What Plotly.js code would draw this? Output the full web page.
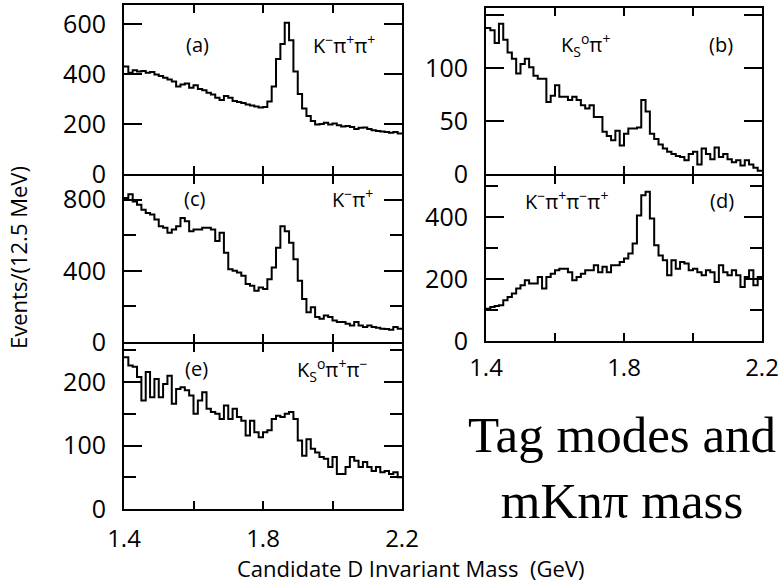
<!DOCTYPE html>
<html>
<head>
<meta charset="utf-8">
<script src="https://cdn.plot.ly/plotly-3.0.1.min.js"></script>
<style>html,body{margin:0;padding:0;background:#fff;}#chart{width:784px;height:587px;}</style>
</head>
<body>
<div id="chart"></div>
<script>
// Histogram binning: 64 bins of 12.5 MeV from 1.4 to 2.2 GeV
const massMin = 1.4;
const binWidth = 0.0125;

// (a) K- pi+ pi+
const countsA = [430,405,415,410,412,405,408,398,392,385,378,370,350,358,362,345,
  355,340,335,325,318,305,296,312,305,292,288,284,278,274,270,266,
  268,290,350,460,520,605,535,410,320,262,232,212,198,200,205,198,
  202,195,190,192,188,180,185,186,180,175,172,170,168,165,168,162];
// (b) Ks pi+
const countsB = [138,136,124,142,127,115,109,95,104,109,101,93,90,90,68,74,
  84,73,73,70,73,70,65,62,65,54,54,40,36,32,41,27,
  38,43,43,44,70,59,38,33,28,24,21,19,17,16,13,19,
  21,9,24,19,14,25,16,19,14,11,13,8,13,9,6,3];
// (c) K- pi+
const countsC = [809,831,790,772,744,725,716,688,651,642,614,632,651,697,679,623,
  632,632,642,642,632,567,614,502,409,400,391,372,326,316,288,307,
  298,353,419,530,651,623,558,465,344,242,167,195,140,130,149,140,
  121,112,112,102,93,112,93,84,93,84,80,74,73,69,84,74];
// (d) K- pi+ pi- pi+
const countsD = [104,110,113,115,131,142,153,169,180,196,185,185,206,169,206,217,
  228,233,233,222,196,206,217,228,228,244,222,239,222,244,244,255,
  266,282,314,405,470,481,395,309,276,260,212,260,233,255,250,228,
  233,222,212,228,222,190,244,222,212,228,212,174,206,228,180,206];
// (e) Ks pi+ pi-
const countsE = [239,226,224,208,171,216,176,205,176,197,210,166,189,192,187,179,
  150,171,184,158,153,150,142,163,142,158,145,139,116,139,121,113,
  121,124,142,147,145,150,153,142,108,84,110,95,89,82,79,66,
  82,55,55,66,82,76,66,74,66,60,66,58,60,55,58,50];

const xTickVals = [1.4, 1.6, 1.8, 2.0, 2.2];
const xTickText = ['1.4', '', '1.8', '', '2.2'];
const panelLabels = ['(a)', '(b)', '(c)', '(d)', '(e)'];
const modeLabels = ['K<sup>−</sup>π<sup>+</sup>π<sup>+</sup>', 'K<sub>S</sub><sup>o</sup>π<sup>+</sup>',
  'K<sup>−</sup>π<sup>+</sup>', 'K<sup>−</sup>π<sup>+</sup>π<sup>−</sup>π<sup>+</sup>',
  'K<sub>S</sub><sup>o</sup>π<sup>+</sup>π<sup>−</sup>'];
const yTitle = 'Events/(12.5 MeV)';
const xTitle = 'Candidate D Invariant Mass  (GeV)';
const noteText = 'Tag modes and<br>mKnπ mass';

// y ranges and major / minor tick steps per panel
const yRanges = [[0, 676], [0, 157], [0, 933], [0, 532], [0, 260]];
const yMajor = [200, 50, 400, 200, 100];
const yMinor = [null, null, 200, 100, 50];
const xRange = [1.4, 2.2];

function stepXY(counts) {
  const xs = [], ys = [];
  for (let i = 0; i < counts.length; i++) {
    xs.push(massMin + i * binWidth);
    ys.push(counts[i]);
  }
  xs.push(massMin + counts.length * binWidth);
  ys.push(counts[counts.length - 1]);
  return {xs, ys};
}

const W = 784, H = 587;
const px = v => v / W;
const py = v => 1 - v / H;

const xL = [px(124), px(402)], xR = [px(486), px(762)];
const yDoms = [[py(174), py(5)], [py(174), py(8)], [py(342), py(176)], [py(341), py(176)], [py(509), py(344)]];
const xDoms = [xL, xR, xL, xR, xL];
const xShowLabels = [false, false, false, true, true];
const xLabelStandoff = [0, 0, 0, 4, 7];

const sfx = i => (i === 0 ? '' : String(i + 1));
const allCounts = [countsA, countsB, countsC, countsD, countsE];
const traces = allCounts.map((c, i) => {
  const s = stepXY(c);
  return {
    x: s.xs, y: s.ys, type: 'scatter', mode: 'lines',
    line: {shape: 'hv', color: '#000', width: 2},
    xaxis: 'x' + sfx(i), yaxis: 'y' + sfx(i),
    hoverinfo: 'skip', showlegend: false
  };
});

const layout = {
  width: W, height: H, margin: {l: 0, r: 0, t: 0, b: 0},
  showlegend: false, annotations: []
};
for (let i = 0; i < 5; i++) {
  layout['xaxis' + sfx(i)] = {
    domain: xDoms[i], range: xRange, anchor: 'y' + sfx(i),
    tickmode: 'array', tickvals: xTickVals, ticktext: xTickText, showticklabels: xShowLabels[i],
    ticks: 'inside', ticklen: 8, tickwidth: 2, tickcolor: '#000',
    showline: true, linewidth: 2, linecolor: '#000', mirror: 'allticks',
    showgrid: false, zeroline: false, tickfont: {size: 24, color: '#000'}, ticklabelstandoff: xLabelStandoff[i]
  };
  const ya = {
    domain: yDoms[i], range: yRanges[i], anchor: 'x' + sfx(i),
    tickmode: 'linear', tick0: 0, dtick: yMajor[i],
    ticks: 'inside', ticklen: 18, tickwidth: 2, tickcolor: '#000',
    showline: true, linewidth: 2, linecolor: '#000', mirror: 'allticks',
    showgrid: false, zeroline: false, tickfont: {size: 25, color: '#000'}, ticklabelstandoff: 11
  };
  if (yMinor[i]) ya.minor = {tick0: 0, dtick: yMinor[i], ticks: 'inside', ticklen: 12, tickwidth: 2, tickcolor: '#000', showgrid: false};
  layout['yaxis' + sfx(i)] = ya;
}

const lblFont = {size: 20, color: '#000'};
const panelPos = [[198, 44], [721, 45], [194, 198], [722, 200], [196, 368]];
const modePos = [[344, 44], [585, 45], [352, 198], [566, 200], [332, 370]];
panelLabels.forEach((t, i) => {
  layout.annotations.push({text: t, x: px(panelPos[i][0]), y: py(panelPos[i][1]), xref: 'paper', yref: 'paper',
    xanchor: 'center', yanchor: 'middle', showarrow: false, font: lblFont});
  layout.annotations.push({text: modeLabels[i], x: px(modePos[i][0]), y: py(modePos[i][1]), xref: 'paper', yref: 'paper',
    xanchor: 'center', yanchor: 'middle', showarrow: false, font: lblFont});
});
layout.annotations.push({text: yTitle, textangle: -90, x: px(18), y: py(258), xref: 'paper', yref: 'paper',
  xanchor: 'center', yanchor: 'middle', showarrow: false, font: {size: 22, color: '#000'}});
layout.annotations.push({text: xTitle, x: px(410), y: py(568), xref: 'paper', yref: 'paper',
  xanchor: 'center', yanchor: 'middle', showarrow: false, font: {size: 22, color: '#000'}});
layout.annotations.push({text: noteText, x: px(622), y: py(468), xref: 'paper', yref: 'paper',
  xanchor: 'center', yanchor: 'middle', align: 'center', showarrow: false,
  font: {family: 'Liberation Serif, Times New Roman, serif', size: 51, color: '#000'}});

Plotly.newPlot('chart', traces, layout, {displayModeBar: false});
</script>
</body>
</html>
